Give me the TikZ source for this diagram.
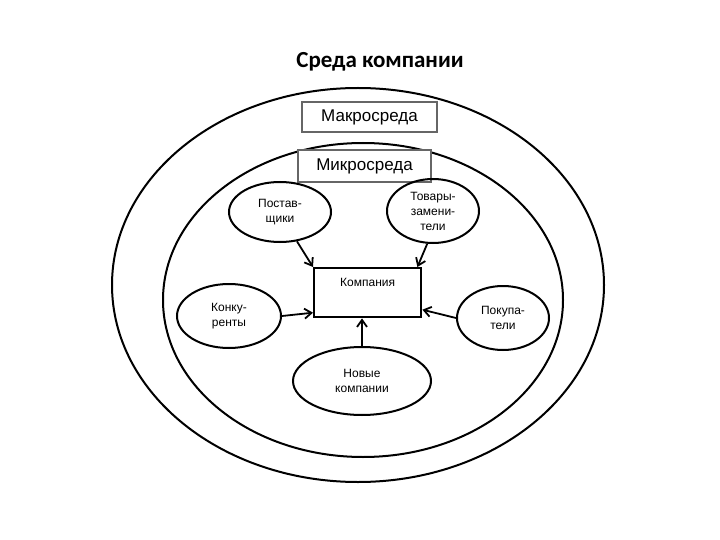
\documentclass[tikz,border=0pt]{standalone}
\usepackage{fontspec}
\setmainfont{Liberation Sans}
\newfontfamily\titlefont{Carlito}
\usetikzlibrary{shapes.geometric,arrows.meta}
\begin{document}
\begin{tikzpicture}[x=1pt,y=-1pt,
  line width=2pt,
  ell/.style={draw,ellipse,inner sep=0pt,font=\fontsize{12}{15}\selectfont,align=center},
  lbl/.style={draw=black!60,line width=2pt,fill=white,font=\fontsize{17}{19}\selectfont,inner sep=0pt},
  arr/.style={-{Straight Barb[length=7pt,width=10pt]},line width=1.8pt}]
\useasboundingbox (0,0) rectangle (720,540);
\node[font=\titlefont\bfseries\fontsize{23}{26}\selectfont] (title) at (380,62) {Среда компании};
\draw (358,285) ellipse [x radius=246, y radius=197];
\draw (363,300) ellipse [x radius=200, y radius=157];
\node[lbl,minimum width=135pt,minimum height=30pt] (macro) at (369.5,117) {Макросреда};
\node[lbl,minimum width=133pt,minimum height=32pt] (micro) at (364.5,166) {Микросреда};
\node[draw,line width=2.4pt,minimum width=107pt,minimum height=49pt,font=\fontsize{12}{14}\selectfont,anchor=north west,text depth=20pt] (comp) at (313,267) {Компания};
\node[ell,minimum width=102pt,minimum height=60pt] (post) at (280,212) {Постав-\\щики};
\node[ell,minimum width=92pt,minimum height=64pt] (tov) at (433,211) {Товары-\\замени-\\тели};
\node[ell,minimum width=104pt,minimum height=64pt] (konk) at (229,316) {Конку-\\ренты};
\node[ell,minimum width=92pt,minimum height=64pt] (pok) at (503,318) {Покупа-\\тели};
\node[ell,minimum width=138pt,minimum height=68pt] (new) at (362,381) {Новые\\компании};
\draw[arr] (post.-60) -- (comp.north west);
\draw[arr] (tov.-100) -- ([xshift=-5pt]comp.north east);
\draw[arr] (konk.east) -- ([yshift=-20pt]comp.west);
\draw[arr] (pok.west) -- ([yshift=-17pt]comp.east);
\draw[arr] (new.north) -- (new.north |- comp.south);
\end{tikzpicture}
\end{document}
